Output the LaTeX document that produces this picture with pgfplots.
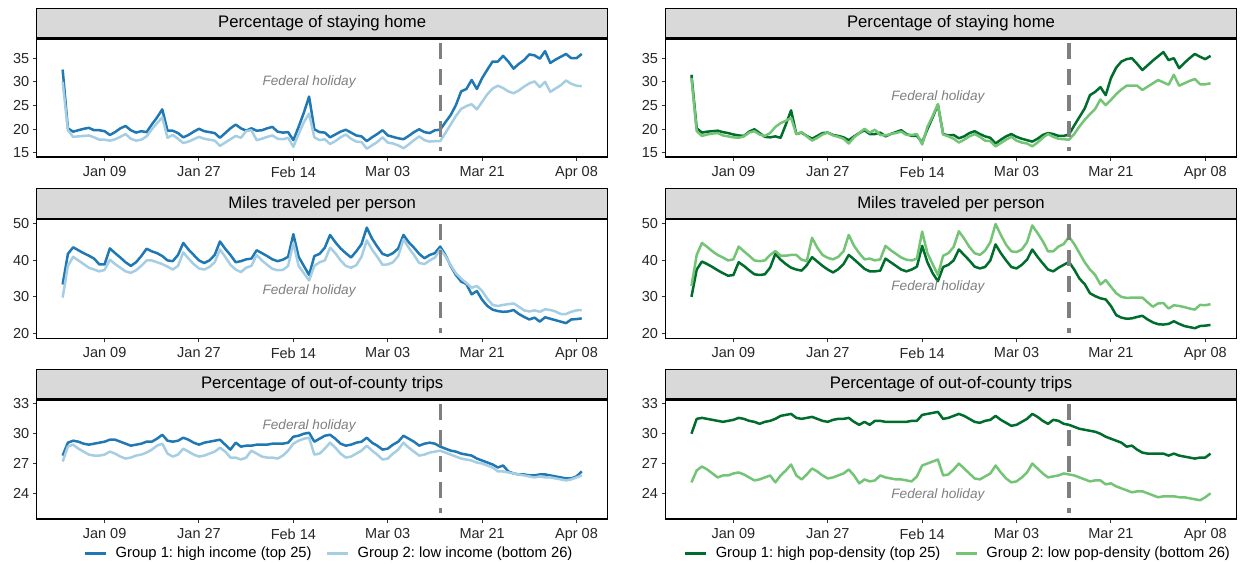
\documentclass[border=0pt]{standalone}
\usepackage{fontspec}
\setmainfont{Liberation Sans}
\usepackage{pgfplots}
\usepackage{pgfplotstable}
\pgfplotsset{compat=1.18}
\definecolor{gOneB}{HTML}{1F78B4}
\definecolor{gTwoB}{HTML}{A6CEE3}
\definecolor{gOneG}{HTML}{006D2C}
\definecolor{gTwoG}{HTML}{74C476}
\definecolor{stripgray}{HTML}{D9D9D9}
\definecolor{dashc}{HTML}{7F7F7F}

% stay home, income
\pgfplotstableread[row sep=\\]{d a b\\
1 32.6 30.0\\ 2 20.2 19.8\\ 3 19.5 18.4\\ 4 19.8 18.5\\ 5 20.1 18.6\\ 6 20.3 18.7\\ 7 19.8 18.3\\ 8 19.8 17.8\\ 9 19.6 17.8\\ 10 18.8 17.6\\
11 19.4 17.9\\ 12 20.2 18.4\\ 13 20.7 19.0\\ 14 19.8 18.0\\ 15 19.3 17.6\\ 16 19.6 17.8\\ 17 19.4 18.5\\ 18 21.0 20.0\\ 19 22.5 21.3\\ 20 24.2 22.5\\
21 19.7 18.2\\ 22 19.7 18.8\\ 23 19.2 18.0\\ 24 18.3 17.1\\ 25 18.8 17.4\\ 26 19.5 17.9\\ 27 20.1 18.4\\ 28 19.6 18.0\\ 29 19.4 17.8\\ 30 19.2 17.6\\
31 18.2 16.5\\ 32 19.2 17.2\\ 33 20.2 17.9\\ 34 21.0 18.6\\ 35 20.2 18.2\\ 36 19.7 19.6\\ 37 20.2 19.8\\ 38 19.7 17.7\\ 39 19.8 18.0\\ 40 20.2 18.4\\
41 20.5 18.7\\ 42 19.5 18.0\\ 43 19.3 17.9\\ 44 19.4 18.2\\ 45 17.7 16.3\\ 46 20.5 19.0\\ 47 23.5 21.5\\ 48 26.9 23.3\\ 49 20.0 18.3\\ 50 19.4 17.7\\
51 19.3 17.9\\ 52 18.3 16.9\\ 53 18.9 17.5\\ 54 19.5 18.3\\ 55 19.9 18.9\\ 56 19.3 18.0\\ 57 18.7 17.4\\ 58 18.5 17.3\\ 59 17.5 15.9\\ 60 18.3 16.6\\
61 19.0 17.3\\ 62 19.8 18.3\\ 63 18.7 17.2\\ 64 18.4 17.0\\ 65 18.1 16.6\\ 66 17.9 16.0\\ 67 18.6 16.8\\ 68 19.4 17.7\\ 69 20.0 18.5\\ 70 19.4 17.7\\
71 19.2 17.4\\ 72 19.8 17.5\\ 73 19.9 17.5\\ 74 21.5 19.2\\ 75 23.0 21.0\\ 76 25.1 22.8\\ 77 28.0 24.3\\ 78 28.5 24.9\\ 79 30.4 25.3\\ 80 28.5 24.2\\
81 30.8 25.8\\ 82 32.6 27.4\\ 83 34.3 28.6\\ 84 34.3 29.2\\ 85 35.5 28.7\\ 86 34.3 28.0\\ 87 32.8 27.6\\ 88 33.8 28.2\\ 89 34.6 29.0\\ 90 35.8 29.7\\
91 35.6 30.1\\ 92 34.9 28.9\\ 93 36.5 30.0\\ 94 34.0 27.9\\ 95 34.7 28.6\\ 96 35.3 29.3\\ 97 35.9 30.3\\ 98 35.0 29.6\\ 99 35.0 29.2\\ 100 35.9 29.1\\
}\tA

% stay home, density
\pgfplotstableread[row sep=\\]{d a b\\
1 31.5 30.8\\ 2 20.2 19.6\\ 3 19.3 18.6\\ 4 19.5 18.9\\ 5 19.6 19.1\\ 6 19.7 19.2\\ 7 19.4 18.7\\ 8 19.2 18.5\\ 9 18.9 18.3\\ 10 18.7 18.2\\
11 18.6 18.5\\ 12 19.5 19.3\\ 13 20.0 19.6\\ 14 19.2 18.9\\ 15 18.4 18.6\\ 16 18.3 19.2\\ 17 18.5 20.5\\ 18 18.2 21.3\\ 19 21.0 21.8\\ 20 24.0 22.4\\
21 19.0 19.0\\ 22 19.3 19.4\\ 23 18.6 18.5\\ 24 18.0 17.6\\ 25 18.6 18.2\\ 26 19.2 18.9\\ 27 19.3 19.3\\ 28 18.8 18.7\\ 29 18.6 18.4\\ 30 18.3 18.0\\
31 17.7 17.0\\ 32 18.5 18.3\\ 33 19.2 19.2\\ 34 19.8 20.1\\ 35 19.0 19.3\\ 36 19.0 19.9\\ 37 19.3 18.8\\ 38 18.5 18.7\\ 39 19.0 19.0\\ 40 19.4 19.2\\
41 19.8 19.5\\ 42 19.0 18.8\\ 43 18.6 18.8\\ 44 18.6 19.0\\ 45 17.2 16.8\\ 46 20.0 20.5\\ 47 22.5 22.8\\ 48 25.2 25.3\\ 49 19.0 18.9\\ 50 18.7 18.5\\
51 18.8 18.0\\ 52 18.1 17.2\\ 53 18.5 17.8\\ 54 19.2 18.5\\ 55 19.6 19.0\\ 56 19.0 18.4\\ 57 18.5 17.6\\ 58 18.2 17.5\\ 59 17.0 16.4\\ 60 17.8 17.1\\
61 18.5 17.8\\ 62 19.0 18.4\\ 63 18.4 17.6\\ 64 18.0 17.2\\ 65 17.7 17.0\\ 66 17.4 16.4\\ 67 18.0 17.2\\ 68 18.8 18.2\\ 69 19.2 19.0\\ 70 19.0 18.4\\
71 18.6 18.0\\ 72 18.6 17.9\\ 73 18.9 17.8\\ 74 20.8 19.0\\ 75 22.6 20.6\\ 76 24.4 22.0\\ 77 27.2 23.2\\ 78 27.9 24.3\\ 79 28.9 26.3\\ 80 27.2 25.1\\
81 30.8 26.2\\ 82 33.0 27.4\\ 83 34.3 28.4\\ 84 34.8 29.2\\ 85 35.0 29.2\\ 86 33.8 29.2\\ 87 32.5 28.3\\ 88 33.5 29.0\\ 89 34.5 29.7\\ 90 35.4 30.4\\
91 36.3 29.9\\ 92 34.6 29.4\\ 93 35.0 31.5\\ 94 32.9 29.2\\ 95 34.0 29.7\\ 96 35.0 30.2\\ 97 35.9 30.6\\ 98 35.3 29.5\\ 99 34.8 29.5\\ 100 35.5 29.7\\
}\tB

% miles, income
\pgfplotstableread[row sep=\\]{d a b\\
1 33.4 29.8\\ 2 41.8 38.5\\ 3 43.6 41.0\\ 4 42.8 40.0\\ 5 42.0 39.0\\ 6 41.3 38.0\\ 7 40.5 37.5\\ 8 38.9 37.0\\ 9 38.9 37.4\\ 10 43.3 40.2\\
11 42.0 39.0\\ 12 40.8 38.0\\ 13 39.5 37.0\\ 14 38.5 36.6\\ 15 39.5 37.3\\ 16 41.2 38.5\\ 17 43.2 40.0\\ 18 42.5 40.0\\ 19 42.0 39.5\\ 20 41.2 39.0\\
21 40.0 38.3\\ 22 39.8 37.5\\ 23 41.5 38.5\\ 24 44.8 42.2\\ 25 43.0 40.5\\ 26 41.5 39.0\\ 27 40.0 37.8\\ 28 39.3 37.5\\ 29 40.0 38.2\\ 30 41.5 39.5\\
31 45.2 43.0\\ 32 43.2 41.0\\ 33 41.5 38.8\\ 34 39.5 37.5\\ 35 39.8 36.8\\ 36 40.3 38.0\\ 37 40.5 38.5\\ 38 42.8 41.5\\ 39 42.0 40.0\\ 40 41.2 38.8\\
41 40.3 37.7\\ 42 39.8 37.3\\ 43 40.2 37.4\\ 44 41.0 38.5\\ 45 47.2 44.8\\ 46 41.0 38.5\\ 47 38.5 36.5\\ 48 36.0 34.5\\ 49 41.2 38.5\\ 50 41.8 39.5\\
51 43.5 40.0\\ 52 47.0 43.5\\ 53 45.0 42.0\\ 54 43.3 40.0\\ 55 42.0 38.5\\ 56 40.8 38.0\\ 57 42.5 38.7\\ 58 44.5 41.0\\ 59 49.0 45.5\\ 60 46.0 43.0\\
61 43.8 41.0\\ 62 41.8 38.8\\ 63 41.3 38.9\\ 64 42.0 39.5\\ 65 43.3 41.2\\ 66 47.0 45.8\\ 67 45.0 43.5\\ 68 43.5 41.5\\ 69 41.8 39.3\\ 70 40.6 39.0\\
71 41.5 40.0\\ 72 42.0 40.8\\ 73 43.8 43.0\\ 74 41.5 41.2\\ 75 38.5 38.7\\ 76 36.0 36.5\\ 77 34.2 35.0\\ 78 33.5 33.8\\ 79 30.7 32.5\\ 80 31.6 33.0\\
81 29.2 31.6\\ 82 27.5 29.5\\ 83 26.5 27.8\\ 84 26.1 27.5\\ 85 25.9 27.8\\ 86 26.0 28.0\\ 87 26.4 28.2\\ 88 25.3 27.3\\ 89 24.5 26.3\\ 90 23.8 26.0\\
91 24.3 26.3\\ 92 23.2 25.9\\ 93 24.4 26.6\\ 94 24.0 26.4\\ 95 23.6 26.0\\ 96 23.2 25.3\\ 97 22.8 25.3\\ 98 23.8 25.9\\ 99 23.9 26.3\\ 100 24.1 26.4\\
}\tC

% miles, density
\pgfplotstableread[row sep=\\]{d a b\\
1 30.0 33.0\\ 2 37.5 41.5\\ 3 39.7 44.8\\ 4 39.0 43.7\\ 5 38.2 42.5\\ 6 37.3 41.5\\ 7 36.5 40.8\\ 8 35.8 40.0\\ 9 36.0 40.3\\ 10 39.5 43.8\\
11 38.5 42.5\\ 12 37.3 41.3\\ 13 36.2 40.0\\ 14 36.0 39.8\\ 15 36.2 40.0\\ 16 38.0 41.5\\ 17 41.8 42.6\\ 18 40.2 41.3\\ 19 39.0 41.3\\ 20 38.0 41.5\\
21 37.5 41.5\\ 22 37.2 40.2\\ 23 38.7 39.8\\ 24 40.9 46.2\\ 25 39.7 43.5\\ 26 38.5 41.5\\ 27 37.5 40.7\\ 28 36.7 40.3\\ 29 37.6 41.0\\ 30 39.0 42.5\\
31 41.5 47.0\\ 32 40.3 44.0\\ 33 39.0 42.0\\ 34 37.7 40.3\\ 35 37.0 40.5\\ 36 37.0 40.0\\ 37 37.2 40.3\\ 38 40.5 44.0\\ 39 39.5 42.8\\ 40 38.5 41.8\\
41 37.5 40.8\\ 42 37.0 40.2\\ 43 37.5 40.0\\ 44 38.3 40.5\\ 45 44.0 47.9\\ 46 39.5 42.0\\ 47 36.5 39.0\\ 48 34.3 36.0\\ 49 38.2 41.3\\ 50 38.8 42.0\\
51 40.0 43.7\\ 52 43.0 48.0\\ 53 41.5 46.0\\ 54 40.0 43.7\\ 55 38.3 42.0\\ 56 37.8 41.5\\ 57 38.2 42.7\\ 58 40.0 45.0\\ 59 44.4 50.0\\ 60 42.0 47.0\\
61 40.0 44.3\\ 62 38.2 42.5\\ 63 37.8 42.3\\ 64 38.8 43.0\\ 65 40.2 45.0\\ 66 43.0 49.6\\ 67 41.0 47.5\\ 68 39.2 45.3\\ 69 37.5 42.5\\ 70 37.0 42.5\\
71 38.0 43.8\\ 72 38.8 44.5\\ 73 39.6 46.5\\ 74 37.5 44.5\\ 75 35.0 42.0\\ 76 33.5 39.5\\ 77 31.0 37.5\\ 78 30.2 36.0\\ 79 29.6 33.4\\ 80 29.3 34.6\\
81 27.5 32.8\\ 82 25.0 31.0\\ 83 24.3 30.0\\ 84 24.0 29.7\\ 85 24.1 29.8\\ 86 24.5 29.8\\ 87 24.8 29.8\\ 88 23.8 28.5\\ 89 23.0 27.3\\ 90 22.5 28.2\\
91 22.4 28.3\\ 92 22.6 26.8\\ 93 23.3 27.7\\ 94 22.6 27.5\\ 95 22.0 27.2\\ 96 21.7 26.8\\ 97 21.4 26.5\\ 98 22.0 27.8\\ 99 22.1 27.7\\ 100 22.3 28.0\\
}\tD

% out-of-county, income
\pgfplotstableread[row sep=\\]{d a b\\
1 27.8 27.2\\ 2 29.1 28.7\\ 3 29.3 28.9\\ 4 29.2 28.5\\ 5 29.0 28.2\\ 6 28.9 27.9\\ 7 29.0 27.8\\ 8 29.1 27.8\\ 9 29.2 27.9\\ 10 29.4 28.2\\
11 29.4 28.0\\ 12 29.2 27.7\\ 13 29.0 27.5\\ 14 28.8 27.6\\ 15 28.9 27.8\\ 16 29.0 27.9\\ 17 29.2 28.1\\ 18 29.2 28.4\\ 19 29.5 28.8\\ 20 29.9 29.0\\
21 29.3 28.0\\ 22 29.2 27.7\\ 23 29.3 27.9\\ 24 29.6 28.5\\ 25 29.4 28.2\\ 26 29.1 27.9\\ 27 28.9 27.7\\ 28 29.1 27.8\\ 29 29.2 28.0\\ 30 29.3 28.2\\
31 29.4 28.6\\ 32 28.9 28.2\\ 33 28.4 27.6\\ 34 29.1 27.6\\ 35 28.7 27.4\\ 36 28.8 27.6\\ 37 28.8 28.3\\ 38 28.9 28.0\\ 39 28.9 27.7\\ 40 28.9 27.6\\
41 29.0 27.6\\ 42 29.0 27.5\\ 43 29.0 27.8\\ 44 29.1 28.3\\ 45 29.7 29.0\\ 46 29.8 29.3\\ 47 30.0 29.5\\ 48 30.1 29.6\\ 49 29.2 27.9\\ 50 29.5 28.0\\
51 29.8 28.5\\ 52 29.9 29.1\\ 53 29.5 28.6\\ 54 29.0 28.0\\ 55 28.8 27.6\\ 56 28.9 27.7\\ 57 29.1 28.0\\ 58 29.2 28.3\\ 59 29.6 28.8\\ 60 29.1 28.3\\
61 28.8 27.9\\ 62 28.4 27.4\\ 63 28.5 27.5\\ 64 28.9 28.0\\ 65 29.2 28.4\\ 66 29.8 29.1\\ 67 29.5 28.6\\ 68 29.2 28.2\\ 69 28.8 27.8\\ 70 29.0 27.9\\
71 29.1 28.1\\ 72 29.0 28.2\\ 73 28.7 28.3\\ 74 28.5 28.1\\ 75 28.3 27.9\\ 76 28.2 27.7\\ 77 28.0 27.5\\ 78 27.9 27.4\\ 79 27.8 27.3\\ 80 27.5 27.1\\
81 27.3 27.0\\ 82 27.1 26.8\\ 83 26.9 26.6\\ 84 26.6 26.2\\ 85 26.8 26.2\\ 86 26.2 26.1\\ 87 26.0 26.0\\ 88 25.9 25.9\\ 89 25.9 25.8\\ 90 25.8 25.7\\
91 25.8 25.6\\ 92 25.9 25.7\\ 93 25.9 25.6\\ 94 25.8 25.6\\ 95 25.7 25.5\\ 96 25.6 25.4\\ 97 25.5 25.3\\ 98 25.5 25.4\\ 99 25.7 25.6\\ 100 26.2 25.8\\
}\tE

% out-of-county, density
\pgfplotstableread[row sep=\\]{d a b\\
1 30.0 25.1\\ 2 31.5 26.3\\ 3 31.6 26.7\\ 4 31.5 26.4\\ 5 31.4 26.0\\ 6 31.3 25.6\\ 7 31.2 25.8\\ 8 31.3 25.8\\ 9 31.4 26.0\\ 10 31.6 26.1\\
11 31.5 25.9\\ 12 31.3 25.6\\ 13 31.2 25.3\\ 14 31.0 25.4\\ 15 31.2 25.6\\ 16 31.3 25.8\\ 17 31.5 25.1\\ 18 31.8 25.8\\ 19 31.9 26.3\\ 20 32.0 26.9\\
21 31.6 25.8\\ 22 31.5 25.4\\ 23 31.6 25.9\\ 24 31.7 26.5\\ 25 31.5 26.2\\ 26 31.3 25.8\\ 27 31.2 25.5\\ 28 31.4 25.6\\ 29 31.5 25.8\\ 30 31.5 26.0\\
31 31.6 26.4\\ 32 31.2 25.8\\ 33 30.9 25.0\\ 34 31.2 25.4\\ 35 30.9 25.2\\ 36 31.3 25.3\\ 37 31.3 25.8\\ 38 31.2 25.6\\ 39 31.2 25.5\\ 40 31.2 25.4\\
41 31.2 25.4\\ 42 31.2 25.3\\ 43 31.3 25.2\\ 44 31.3 25.7\\ 45 31.9 26.8\\ 46 32.0 27.0\\ 47 32.1 27.2\\ 48 32.2 27.4\\ 49 31.5 25.8\\ 50 31.6 25.9\\
51 31.8 26.4\\ 52 32.0 27.0\\ 53 31.8 26.5\\ 54 31.5 26.0\\ 55 31.2 25.5\\ 56 31.1 25.4\\ 57 31.3 25.7\\ 58 31.4 26.0\\ 59 31.8 26.8\\ 60 31.4 26.1\\
61 31.1 25.5\\ 62 30.8 25.1\\ 63 30.9 25.2\\ 64 31.2 25.6\\ 65 31.5 26.1\\ 66 32.0 27.0\\ 67 31.7 26.5\\ 68 31.3 26.0\\ 69 31.0 25.6\\ 70 31.4 25.7\\
71 31.3 25.8\\ 72 31.0 26.0\\ 73 30.9 25.9\\ 74 30.7 25.8\\ 75 30.5 25.6\\ 76 30.4 25.4\\ 77 30.3 25.2\\ 78 30.2 25.3\\ 79 30.0 25.3\\ 80 29.7 24.9\\
81 29.5 25.0\\ 82 29.3 24.7\\ 83 29.1 24.5\\ 84 28.7 24.3\\ 85 28.8 24.1\\ 86 28.4 24.2\\ 87 28.1 24.2\\ 88 28.0 24.0\\ 89 28.0 23.8\\ 90 28.0 23.6\\
91 28.0 23.7\\ 92 27.8 23.7\\ 93 28.0 23.7\\ 94 27.8 23.6\\ 95 27.7 23.6\\ 96 27.6 23.5\\ 97 27.5 23.4\\ 98 27.6 23.3\\ 99 27.6 23.6\\ 100 28.0 24.0\\
}\tF

\pgfplotsset{
  panel/.style={
    scale only axis, width=571pt, clip mode=individual,
    anchor=north west,
    xmin=-3.95, xmax=104.95,
    xtick={9,27,45,63,81,99},
    xticklabels={Jan 09,Jan 27,Feb 14,Mar 03,Mar 21,Apr 08},
    xtick pos=bottom, ytick pos=left, tick align=outside,
    major tick length=4pt,
    tick style={black!80, line width=1pt},
    axis line style={line width=1.2pt},
    ticklabel style={font=\fontsize{14.5}{16}\selectfont, text=black!85},
    xticklabel style={yshift=-2pt},
    /pgf/number format/assume math mode=true,
    every axis plot/.append style={line width=2.5pt, line join=round, no markers},
  },
  botlegend/.style={
    legend style={at={(0.512,-0.2866)}, anchor=center, draw=none, fill=none,
      legend columns=2, font=\fontsize{14.75}{16}\selectfont,
      /tikz/every odd column/.append style={column sep=6pt},
      /tikz/every even column/.append style={column sep=12pt}},
    legend image code/.code={\draw[##1, line width=3pt] (0pt,0pt) -- (21pt,0pt);},
  },
}
\tikzset{
  vdash/.style={dashc, line width=3.3pt, dash pattern=on 16pt off 10pt},
  holiday/.style={font=\itshape\fontsize{13.6}{15}\selectfont, text=dashc},
  striptext/.style={font=\fontsize{16.7}{20}\selectfont},
}

\begin{document}
\frenchspacing
\begin{tikzpicture}
\useasboundingbox (0,0) rectangle (1245pt,-563pt);

% ---------- Row 1 ----------
\begin{axis}[panel, name=p1, at={(36.7pt,-38.3pt)}, height=118.7pt,
  ymin=14.15, ymax=39.2, ytick={15,20,25,30,35}]
\addplot[gOneB] table[x=d,y=a]{\tA};
\addplot[gTwoB] table[x=d,y=b]{\tA};
\draw[vdash] (axis cs:73,38.2) -- (axis cs:73,15.35);
\node[holiday] at (axis cs:48,30) {Federal holiday};
\end{axis}

\begin{axis}[panel, name=p2, at={(665.5pt,-38.3pt)}, height=118.7pt,
  ymin=14.15, ymax=39.2, ytick={15,20,25,30,35}]
\addplot[gOneG] table[x=d,y=a]{\tB};
\addplot[gTwoG] table[x=d,y=b]{\tB};
\draw[vdash] (axis cs:73,38.2) -- (axis cs:73,15.35);
\node[holiday] at (axis cs:48,26.9) {Federal holiday};
\end{axis}

% ---------- Row 2 ----------
\begin{axis}[panel, name=p3, at={(36.7pt,-218.7pt)}, height=119.6pt,
  ymin=18.63, ymax=51.45, ytick={20,30,40,50}]
\addplot[gOneB] table[x=d,y=a]{\tC};
\addplot[gTwoB] table[x=d,y=b]{\tC};
\draw[vdash] (axis cs:73,50) -- (axis cs:73,20);
\node[holiday] at (axis cs:48,31.7) {Federal holiday};
\end{axis}

\begin{axis}[panel, name=p4, at={(665.5pt,-218.7pt)}, height=119.6pt,
  ymin=18.63, ymax=51.45, ytick={20,30,40,50}]
\addplot[gOneG] table[x=d,y=a]{\tD};
\addplot[gTwoG] table[x=d,y=b]{\tD};
\draw[vdash] (axis cs:73,50) -- (axis cs:73,20);
\node[holiday] at (axis cs:48,32.8) {Federal holiday};
\end{axis}

% ---------- Row 3 ----------
\begin{axis}[panel, botlegend, name=p5, at={(36.7pt,-399.3pt)}, height=119.7pt,
  ymin=21.41, ymax=33.47, ytick={24,27,30,33}]
\addplot[gOneB] table[x=d,y=a]{\tE};
\addlegendentry{Group 1: high income (top 25)}
\addplot[gTwoB] table[x=d,y=b]{\tE};
\addlegendentry{Group 2: low income (bottom 26)}
\draw[vdash] (axis cs:73,33) -- (axis cs:73,22);
\node[holiday] at (axis cs:48,30.8) {Federal holiday};
\end{axis}

\begin{axis}[panel, botlegend, name=p6, at={(665.5pt,-399.3pt)}, height=119.7pt,
  ymin=21.41, ymax=33.47, ytick={24,27,30,33}]
\addplot[gOneG] table[x=d,y=a]{\tF};
\addlegendentry{Group 1: high pop-density (top 25)}
\addplot[gTwoG] table[x=d,y=b]{\tF};
\addlegendentry{Group 2: low pop-density (bottom 26)}
\draw[vdash] (axis cs:73,33) -- (axis cs:73,22);
\node[holiday] at (axis cs:48,23.8) {Federal holiday};
\end{axis}

% ---------- strips ----------
\foreach \p/\t in {p1/Percentage of staying home, p2/Percentage of staying home,
                   p3/Miles traveled per person, p4/Miles traveled per person,
                   p5/Percentage of out-of-county trips, p6/Percentage of out-of-county trips}{
  \draw[fill=stripgray, line width=1pt] (\p.north west) rectangle ([yshift=30pt]\p.north east);
  \node[striptext] at ([yshift=15pt]\p.north) {\t};
  \draw[line width=2.4pt] (\p.north west) -- (\p.north east);
}
\end{tikzpicture}
\end{document}
